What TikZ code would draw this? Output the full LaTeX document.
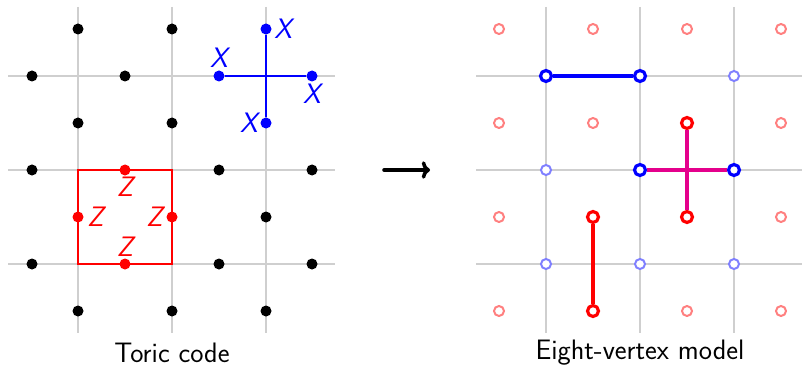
\documentclass[tikz,border=0pt]{standalone}
\usepackage{amsmath}
\usetikzlibrary{arrows.meta}
\definecolor{mag}{RGB}{228,0,140}
\begin{document}
\begin{tikzpicture}[x=0.03cm,y=-0.03cm,
  grid/.style={draw=black!19,line width=1pt},
  dot/.style={circle,fill=#1,inner sep=0pt,minimum size=0.33cm},
  dot/.default=black,
  ring/.style={circle,draw=#1,fill=white,line width=1.7pt,inner sep=0pt,minimum size=0.3cm},
  sring/.style={circle,draw=#1,fill=white,line width=2.7pt,inner sep=0pt,minimum size=0.33cm},
  lab/.style={text=#1,font=\fontsize{24}{28}\selectfont\sffamily\itshape,inner sep=1pt},
  captxt/.style={font=\fontsize{24}{28}\selectfont\sffamily},
  bigarrow/.style={line width=3pt,-{Computer Modern Rightarrow[length=7pt,width=15pt,line width=3pt]},line cap=round}]
\useasboundingbox (0,0) rectangle (802,368);
% ---------- left grid ----------
\foreach \x [count=\i] in {78,172,266}{
  \coordinate (lvt\i) at (\x,7); \coordinate (lvb\i) at (\x,333);
  \draw[grid] (lvt\i) -- (lvb\i);}
\foreach \y [count=\i] in {76,170,264}{
  \coordinate (lhl\i) at (8,\y); \coordinate (lhr\i) at (335,\y);
  \draw[grid] (lhl\i) -- (lhr\i);}
% ---------- right grid ----------
\foreach \x [count=\i] in {546,640,734}{
  \coordinate (rvt\i) at (\x,7); \coordinate (rvb\i) at (\x,333);
  \draw[grid] (rvt\i) -- (rvb\i);}
\foreach \y [count=\i] in {76,170,264}{
  \coordinate (rhl\i) at (476,\y); \coordinate (rhr\i) at (802,\y);
  \draw[grid] (rhl\i) -- (rhr\i);}
% ---------- left: red plaquette ----------
\coordinate (sq1) at (78,170); \coordinate (sq2) at (172,264);
\draw[red,line width=1.8pt] (sq1) rectangle (sq2);
% ---------- left: blue star ----------
\node[dot=blue] (bt) at (266,29) {};
\node[dot=blue] (bl) at (219,76) {};
\node[dot=blue] (br) at (312,76) {};
\node[dot=blue] (bb) at (266,123) {};
\draw[blue,line width=2pt] (bl) -- (br);
\draw[blue,line width=2pt] (bt) -- (bb);
\node[lab=blue,anchor=west] (xt) at ([xshift=1pt]bt.east) {X};
\node[lab=blue,anchor=south] (xl) at ([yshift=1pt]bl.north) {X};
\node[lab=blue,anchor=north] (xr) at ([yshift=-1pt]br.south) {X};
\node[lab=blue,anchor=east] (xb) at ([xshift=-1pt]bb.west) {X};
% red dots
\node[dot=red] (rt) at (125,170) {};
\node[dot=red] (rl) at (78,217) {};
\node[dot=red] (rr) at (172,217) {};
\node[dot=red] (rb) at (125,264) {};
\node[lab=red,anchor=north] (zt) at ([yshift=0pt]rt.south) {Z};
\node[lab=red,anchor=west] (zl) at ([xshift=2pt]rl.east) {Z};
\node[lab=red,anchor=east] (zr) at ([xshift=-2pt]rr.west) {Z};
\node[lab=red,anchor=south] (zb) at ([yshift=0pt]rb.north) {Z};
% black dots
\foreach \p [count=\i] in {(78,29),(172,29),(32,76),(125,76),(78,123),(172,123),
  (32,170),(219,170),(312,170),(266,217),(32,264),(219,264),(312,264),(78,311),(172,311),(266,311)}
  \node[dot] (k\i) at \p {};
% ---------- right panel ----------
\node[sring=blue] (v1) at (546,76) {};
\node[sring=blue] (v2) at (640,76) {};
\node[sring=blue] (v3) at (640,170) {};
\node[sring=blue] (v4) at (734,170) {};
\node[sring=red] (p1) at (687,123) {};
\node[sring=red] (p2) at (687,217) {};
\node[sring=red] (p3) at (593,217) {};
\node[sring=red] (p4) at (593,311) {};
\draw[blue,line width=3.2pt] (v1) -- (v2);
\draw[mag,line width=3.2pt] (v3) -- (v4);
\draw[mag,line width=3.2pt] (p1) -- (p2);
\draw[red,line width=3.2pt] (p3) -- (p4);
\foreach \p [count=\i] in {(734,76),(546,170),(546,264),(640,264),(734,264)}
  \node[ring=blue!50] (lv\i) at \p {};
\foreach \p [count=\i] in {(499,29),(593,29),(687,29),(781,29),(499,123),(593,123),(781,123),
  (499,217),(781,217),(499,311),(687,311),(781,311)}
  \node[ring=red!50] (lp\i) at \p {};
% ---------- arrow and captions ----------
\coordinate (as) at (384,170);
\coordinate (ae) at (430,170);
\draw[bigarrow] (as) -- (ae);
\node[captxt] (c1) at (172,353) {Toric code};
\node[captxt] (c2) at (640,353) {Eight-vertex model};
\end{tikzpicture}
\end{document}
